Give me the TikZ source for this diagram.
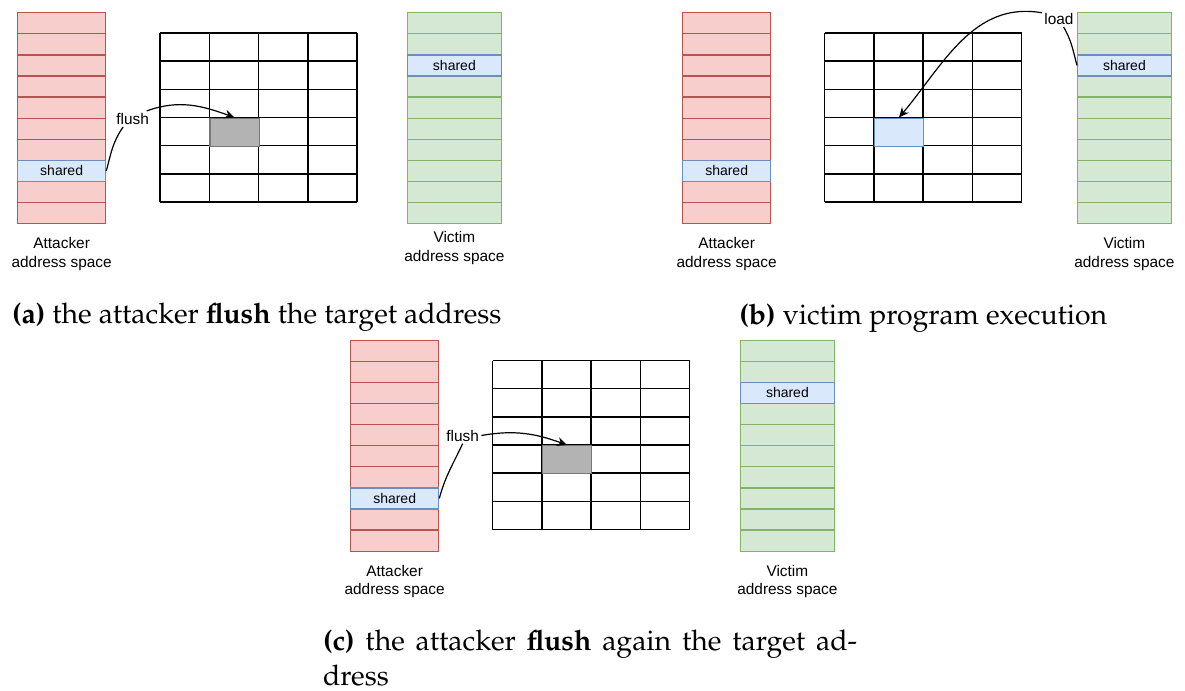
\documentclass[tikz,border=0pt]{standalone}
\usepackage{fontspec}
\setsansfont{Liberation Sans}
\usepackage[T1,TU]{fontenc}
\usetikzlibrary{positioning,arrows.meta}

\definecolor{attfill}{HTML}{F8CECC}
\definecolor{attline}{HTML}{B85450}
\definecolor{vicfill}{HTML}{D5E8D4}
\definecolor{vicline}{HTML}{82B366}
\definecolor{shfill}{HTML}{DAE8FC}
\definecolor{shline}{HTML}{6C8EBF}
\definecolor{tgtfill}{HTML}{B3B3B3}
\definecolor{tgtline}{HTML}{777777}

\tikzset{
  cellatt/.style={draw=attline,fill=attfill,minimum width=44pt,minimum height=10.55pt,inner sep=0pt,line width=0.65pt},
  cellvic/.style={draw=vicline,fill=vicfill,minimum width=46.75pt,minimum height=10.55pt,inner sep=0pt,line width=0.65pt},
  cellsh/.style={draw=shline,fill=shfill,font=\sffamily\fontsize{7}{8}\selectfont},
  tgtgray/.style={draw=tgtline,fill=tgtfill,minimum width=24.625pt,minimum height=14.085pt,inner sep=0pt,line width=0.65pt},
  tgtblue/.style={tgtgray,draw=shline,fill=shfill},
  gridline/.style={line width=0.75pt},
  spacelbl/.style={align=center,inner sep=0pt,font=\sffamily\fontsize{7.7}{9.3}\selectfont},
  edgelbl/.style={inner sep=1pt,font=\sffamily\fontsize{7.7}{9}\selectfont},
  conn/.style={line width=0.6pt},
  capt/.style={inner sep=0pt,font=\fontencoding{T1}\fontfamily{ppl}\fontsize{14.2}{17.5}\selectfont}
}

% one address space: name, left x, top y, cell style, row of the shared line
\newcommand{\addrstack}[5]{%
  \foreach \row in {0,...,9}
    \node[#4,anchor=north west] (#1-\row) at (#2,{-#3-21.1*\row}) {};
  \node[#4,cellsh,anchor=north west] (#1-sh) at (#2,{-#3-21.1*#5}) {shared};
}
% the 4x6 cache: left x, top y
\newcommand{\cachegrid}[2]{%
  \foreach \col in {0,...,4}
    \draw[gridline] ({#1+49.25*\col},-#2) -- ++(0,-169);
  \foreach \row in {0,...,6}
    \draw[gridline] (#1,{-#2-28.17*\row}) -- ++(197,0);
}

\begin{document}
\begin{tikzpicture}[x=0.5pt,y=0.5pt,>={Stealth[length=5pt,width=4.5pt]}]
\useasboundingbox (0,0) rectangle (1185,-691);

% (a)
\addrstack{aatt}{17}{12}{cellatt}{7}
\addrstack{avic}{407}{12}{cellvic}{2}
\cachegrid{160}{33}
\node[tgtgray,anchor=north west] (atgt) at (209.25,-117.5) {};
\node[spacelbl,below=6.5pt of aatt-9] (aattlbl) {Attacker\\address space};
\node[spacelbl,below=3.5pt of avic-9] (aviclbl) {Victim\\address space};
\node[edgelbl] (aflush) at (132.7,-119) {flush};
\draw[conn] (aatt-sh.east) to[out=75,in=-125] (aflush.220);
\draw[conn,->] (aflush.30) to[out=20,in=160] (atgt.north);
\node[capt,anchor=base west] (acap) at (11.7,-323.3) {\textbf{(a)} the attacker \textbf{flush} the target address};

% (b)
\addrstack{batt}{682}{12}{cellatt}{7}
\addrstack{bvic}{1077}{12}{cellvic}{2}
\cachegrid{824.5}{33}
\node[tgtblue,anchor=north west] (btgt) at (873.75,-117.5) {};
\node[spacelbl,below=6.5pt of batt-9] (battlbl) {Attacker\\address space};
\node[spacelbl,below=6.5pt of bvic-9] (bviclbl) {Victim\\address space};
\node[edgelbl] (bload) at (1059,-19) {load};
\draw[conn] (bvic-sh.west) to[out=105,in=-60] (bload.-60);
\draw[conn,->] (bload.160) to[out=170,in=50] (btgt.north);
\node[capt,anchor=base west] (bcap) at (739,-324) {\textbf{(b)} victim program execution};

% (c)
\addrstack{catt}{350}{339.5}{cellatt}{7}
\addrstack{cvic}{740}{339.5}{cellvic}{2}
\cachegrid{492.5}{360.5}
\node[tgtgray,anchor=north west] (ctgt) at (541.75,-445) {};
\node[spacelbl,below=6.5pt of catt-9] (cattlbl) {Attacker\\address space};
\node[spacelbl,below=6.5pt of cvic-9] (cviclbl) {Victim\\address space};
\node[edgelbl] (cflush) at (462.7,-435.5) {flush};
\draw[conn] (catt-sh.east) to[out=75,in=-115] (cflush.south);
\draw[conn,->] (cflush.east) to[out=10,in=160] (ctgt.north);
\node[capt,text width=267pt,align=justify,anchor=north west] (ccap) at (322.7,-629.5)
  {\noindent\textbf{(c)} the attacker \textbf{flush} again the target ad-\linebreak dress};
\end{tikzpicture}
\end{document}
